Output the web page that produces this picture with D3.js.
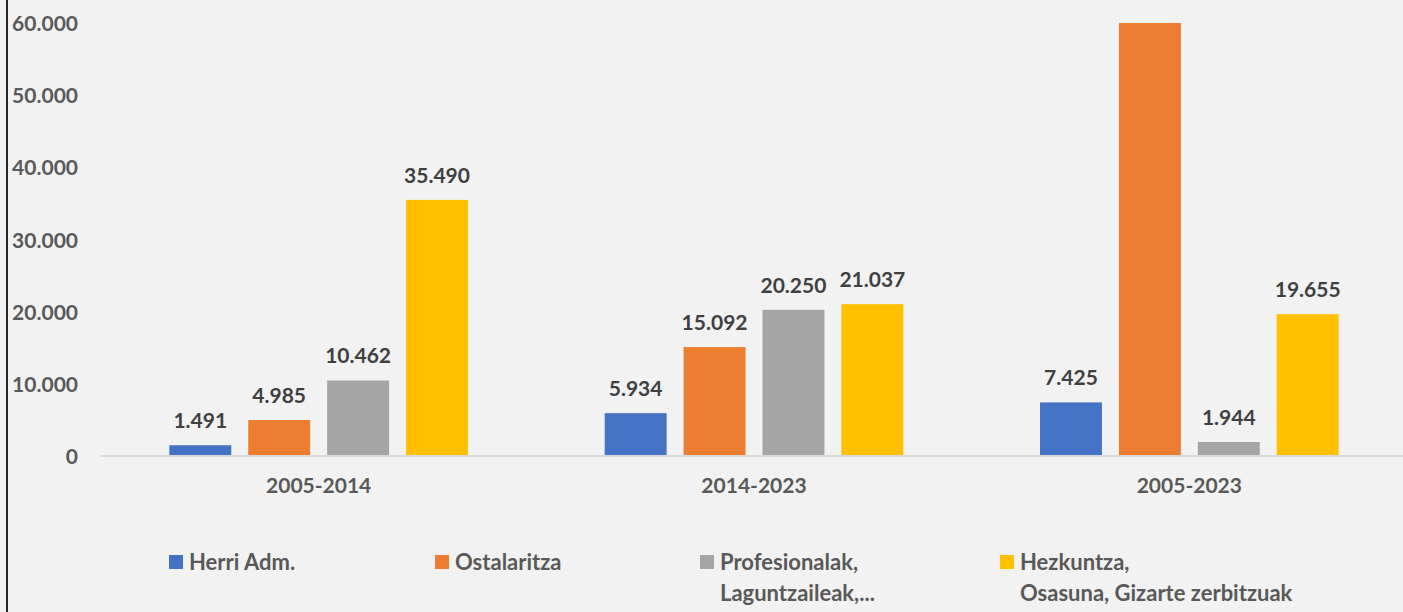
<!DOCTYPE html>
<html>
<head>
<meta charset="utf-8">
<script src="https://cdn.jsdelivr.net/npm/d3@7"></script>
<style>
  body { margin: 0; background: #f2f2f2; }
  svg { display: block; font-family: Lato, "Open Sans", sans-serif; font-weight: bold; }
</style>
</head>
<body>
<div id="chart"></div>
<script>
// data
const periods = ["2005-2014", "2014-2023", "2005-2023"];
const sectors = ["Herri Adm.", "Ostalaritza", "Profesionalak, Laguntzaileak,...", "Hezkuntza, Osasuna, Gizarte zerbitzuak"];
const herriAdm = [1491, 5934, 7425];
const ostalaritza = [4985, 15092, 64000]; // last one runs off the top of the axis, no label shown
const profesionalak = [10462, 20250, 1944];
const hezkuntza = [35490, 21037, 19655];
const yTicks = [0, 10000, 20000, 30000, 40000, 50000, 60000];
const legendLines = [["Herri Adm."], ["Ostalaritza"], ["Profesionalak,", "Laguntzaileak,..."], ["Hezkuntza,", "Osasuna, Gizarte zerbitzuak"]];

const colors = ["#4472c4", "#ed7d31", "#a5a5a5", "#ffc000"];
const seriesValues = [herriAdm, ostalaritza, profesionalak, hezkuntza];

const W = 1403, H = 612;
const plot = { left: 101, right: 1407, top: 23, bottom: 456 };

const svg = d3.select("#chart").append("svg")
    .attr("width", W)
    .attr("height", H);

svg.append("rect")
    .attr("width", W).attr("height", H)
    .attr("fill", "#f2f2f2");

// chart border, only the left edge is inside the picture
svg.append("line")
    .attr("x1", 7).attr("x2", 7)
    .attr("y1", 0).attr("y2", H)
    .attr("stroke", "#262626")
    .attr("stroke-width", 2);

const locale = d3.formatLocale({ decimal: ",", thousands: ".", grouping: [3], currency: ["", ""] });
const fmt = locale.format(",d");

const x0 = d3.scaleBand()
    .domain(periods)
    .range([plot.left, plot.right])
    .paddingInner(0.314)
    .paddingOuter(0.157);

const x1 = d3.scaleBand()
    .domain(sectors)
    .range([0, x0.bandwidth()])
    .paddingInner(0.215)
    .paddingOuter(0);

const y = d3.scaleLinear()
    .domain([0, 60000])
    .range([plot.bottom, plot.top])
    .clamp(true);

const color = d3.scaleOrdinal().domain(sectors).range(colors);

// y axis
const yAxis = d3.axisLeft(y)
    .tickValues(yTicks)
    .tickFormat(fmt)
    .tickSize(0)
    .tickPadding(23);

const gy = svg.append("g")
    .attr("transform", `translate(${plot.left},0)`)
    .call(yAxis);
gy.select(".domain").remove();
gy.selectAll("text")
    .attr("fill", "#595959")
    .attr("dy", "0.36em")
    .style("font-size", "21px")
    .style("font-family", "Lato, 'Open Sans', sans-serif")
    .style("font-weight", "bold");

// bars
const rows = periods.map((p, i) => ({
    period: p,
    values: sectors.map((s, j) => ({ key: s, value: seriesValues[j][i] }))
}));

const groups = svg.append("g").selectAll("g")
    .data(rows)
    .join("g")
    .attr("transform", d => `translate(${x0(d.period)},0)`);

groups.selectAll("rect")
    .data(d => d.values)
    .join("rect")
    .attr("x", d => x1(d.key))
    .attr("width", x1.bandwidth())
    .attr("y", d => y(d.value))
    .attr("height", d => y(0) - y(d.value))
    .attr("fill", d => color(d.key));

groups.selectAll("text")
    .data(d => d.values.filter(v => v.value <= y.domain()[1]))
    .join("text")
    .attr("x", d => x1(d.key) + x1.bandwidth() / 2)
    .attr("y", d => y(d.value) - 17)
    .attr("text-anchor", "middle")
    .attr("fill", "#404040")
    .style("font-size", "21px")
    .text(d => fmt(d.value));

// baseline
svg.append("line")
    .attr("x1", plot.left).attr("x2", W)
    .attr("y1", y(0)).attr("y2", y(0))
    .attr("stroke", "#d9d9d9")
    .attr("stroke-width", 2);

// x axis labels
const xAxis = d3.axisBottom(x0).tickSize(0).tickPadding(22);
const gx = svg.append("g")
    .attr("transform", `translate(0,${y(0)})`)
    .call(xAxis);
gx.select(".domain").remove();
gx.selectAll("text")
    .attr("fill", "#595959")
    .style("font-size", "21px")
    .style("font-family", "Lato, 'Open Sans', sans-serif")
    .style("font-weight", "bold");

// legend
const legendX = [169, 435, 700, 1000];
const legend = svg.append("g").selectAll("g")
    .data(sectors)
    .join("g")
    .attr("transform", (d, i) => `translate(${legendX[i]},555)`);

legend.append("rect")
    .attr("width", 14).attr("height", 14)
    .attr("fill", d => color(d));

legend.append("text")
    .attr("fill", "#595959")
    .style("font-size", "22px")
    .selectAll("tspan")
    .data((d, i) => legendLines[i])
    .join("tspan")
    .attr("x", 20)
    .attr("y", (d, i) => 14.5 + i * 31)
    .text(d => d);
</script>
</body>
</html>
